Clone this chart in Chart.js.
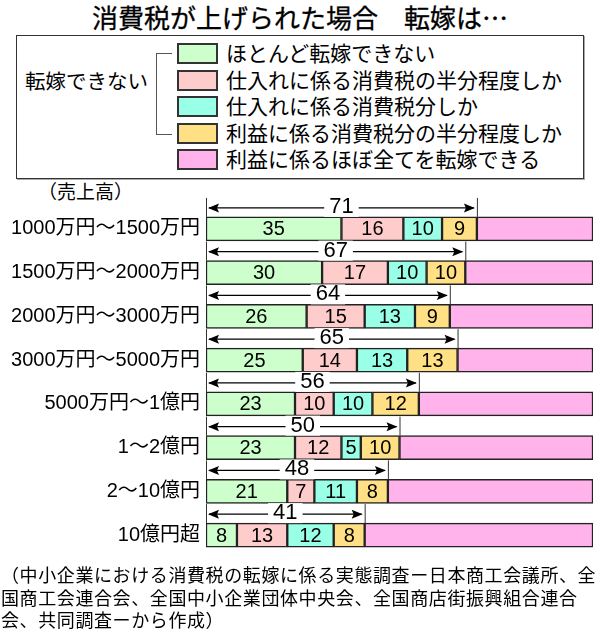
<!DOCTYPE html>
<html lang="ja">
<head>
<meta charset="utf-8">
<script src="https://cdn.jsdelivr.net/npm/chart.js@4"></script>
<style>
  html, body { margin: 0; padding: 0; background: #fff; }
  body { font-family: "Liberation Sans", "Noto Sans CJK JP", sans-serif; color: #000; }
  #wrap { position: relative; width: 600px; height: 635px; overflow: hidden; }
  #title { position: absolute; left: 0; top: 1px; width: 600px; text-align: center; font-family: "Noto Sans CJK JP", sans-serif; font-size: 26px; line-height: 32px; white-space: pre; -webkit-text-stroke: 0.3px #000; }
  #legendBox { position: absolute; left: 16px; top: 35px; width: 566px; height: 142px; border: 1.5px solid #333; box-shadow: 1px 1px 0 #aaa; }
  #group { position: absolute; left: 25px; top: 69px; font-size: 20.5px; line-height: 26px; }
  #bracket { position: absolute; left: 156px; top: 53px; width: 15px; height: 80px; border: 1.5px solid #555; border-right: none; }
  .sw { position: absolute; left: 177px; width: 37px; height: 17px; border: 2px solid #333; }
  .lt { position: absolute; left: 226px; font-size: 21px; line-height: 26px; white-space: nowrap; }
  #unit { position: absolute; left: 38px; top: 180px; font-size: 19px; line-height: 26px; }
  #chartBox { position: absolute; left: 0; top: 185px; width: 600px; height: 390px; }
  #note { position: absolute; left: 1px; top: 565px; width: 600px; font-size: 18px; letter-spacing: 0.6px; line-height: 22.5px; white-space: nowrap; }
</style>
</head>
<body>
<div id="wrap">
  <div id="title">消費税が上げられた場合　転嫁は…</div>
  <div id="legendBox"></div>
  <div id="group">転嫁できない</div>
  <div id="bracket"></div>
  <div id="legendItems"></div>
  <div id="unit">（売上高）</div>
  <div id="chartBox"><canvas id="c"></canvas></div>
  <div id="note">（中小企業における消費税の転嫁に係る実態調査ー日本商工会議所、全<br>国商工会連合会、全国中小企業団体中央会、全国商店街振興組合連合<br>会、共同調査ーから作成）</div>
</div>
<script>
// ===== DATA =====
const categories = ['1000万円～1500万円', '1500万円～2000万円', '2000万円～3000万円', '3000万円～5000万円',
  '5000万円～1億円', '1～2億円', '2～10億円', '10億円超'];
const seriesNames = ['ほとんど転嫁できない', '仕入れに係る消費税の半分程度しか', '仕入れに係る消費税分しか',
  '利益に係る消費税分の半分程度しか', '利益に係るほぼ全てを転嫁できる'];
const almostNone   = [35, 30, 26, 25, 23, 23, 21, 8];
const halfPurchase = [16, 17, 15, 14, 10, 12, 7, 13];
const fullPurchase = [10, 10, 13, 13, 10, 5, 11, 12];
const halfProfit   = [9, 10, 9, 13, 12, 10, 8, 8];
const allProfit    = [30, 33, 37, 35, 45, 50, 53, 59];
const cannotTotals = [71, 67, 64, 65, 56, 50, 48, 41];   // 転嫁できない 合計（矢印の数字）
const colors = ['#ccffcc', '#ffcccc', '#99ffe6', '#ffe085', '#ffb3ea'];

const seriesValues = [almostNone, halfPurchase, fullPurchase, halfProfit, allProfit];
const FONT = '"Liberation Sans", "Noto Sans CJK JP", sans-serif';

// legend (HTML, real text)
const legendItems = document.getElementById('legendItems');
seriesNames.forEach((name, i) => {
  const top = 43 + i * 26.5;
  const sw = document.createElement('div');
  sw.className = 'sw';
  sw.style.top = top + 'px';
  sw.style.background = colors[i];
  legendItems.appendChild(sw);
  const t = document.createElement('div');
  t.className = 'lt';
  t.style.top = (top - 2) + 'px';
  t.textContent = name;
  legendItems.appendChild(t);
});

// numbers inside the bars + arrows above them
const labelPlugin = {
  id: 'barLabels',
  afterDatasetsDraw(chart) {
    const ctx = chart.ctx;
    const xs = chart.scales.x;
    ctx.save();
    ctx.fillStyle = '#000';
    ctx.textAlign = 'center';
    ctx.textBaseline = 'middle';
    ctx.font = '20px ' + FONT;
    for (let d = 0; d < 4; d++) {
      chart.getDatasetMeta(d).data.forEach((bar, j) => {
        ctx.fillText(String(seriesValues[d][j]), (bar.x + bar.base) / 2, bar.y + 1);
      });
    }
    // arrows
    const meta0 = chart.getDatasetMeta(0);
    categories.forEach((c, j) => {
      const bar = meta0.data[j];
      const top = bar.y - bar.height / 2;
      const sum = almostNone[j] + halfPurchase[j] + fullPurchase[j] + halfProfit[j];
      const x0 = xs.getPixelForValue(0);
      const x1 = xs.getPixelForValue(sum);
      const ay = top - 9;
      ctx.strokeStyle = '#333';
      ctx.lineWidth = 1;
      ctx.beginPath();
      ctx.moveTo(x0 + 0.5, top - 19); ctx.lineTo(x0 + 0.5, top);
      ctx.moveTo(x1 + 0.5, top - 19); ctx.lineTo(x1 + 0.5, top);
      ctx.stroke();
      ctx.lineWidth = 1.3;
      ctx.strokeStyle = '#000';
      ctx.beginPath();
      ctx.moveTo(x0 + 3, ay); ctx.lineTo(x1 - 3, ay);
      ctx.stroke();
      ctx.fillStyle = '#000';
      ctx.beginPath();
      ctx.moveTo(x0 + 2, ay); ctx.lineTo(x0 + 13, ay - 4.5); ctx.lineTo(x0 + 11, ay); ctx.lineTo(x0 + 13, ay + 4.5); ctx.closePath();
      ctx.fill();
      ctx.beginPath();
      ctx.moveTo(x1 - 2, ay); ctx.lineTo(x1 - 13, ay - 4.5); ctx.lineTo(x1 - 11, ay); ctx.lineTo(x1 - 13, ay + 4.5); ctx.closePath();
      ctx.fill();
      ctx.font = '22px ' + FONT;
      const txt = String(cannotTotals[j]);
      const w = ctx.measureText(txt).width + 10;
      const cx = (x0 + x1) / 2;
      ctx.fillStyle = '#fff';
      ctx.fillRect(cx - w / 2, ay - 11, w, 20);
      ctx.fillStyle = '#000';
      ctx.fillText(txt, cx, ay - 1);
    });
    ctx.restore();
  }
};

new Chart(document.getElementById('c'), {
  type: 'bar',
  data: {
    labels: categories,
    datasets: seriesValues.map((vals, i) => ({
      label: seriesNames[i],
      data: vals,
      backgroundColor: colors[i],
      borderColor: '#222',
      borderWidth: 1.5,
      borderSkipped: false,
      barThickness: 24
    }))
  },
  options: {
    indexAxis: 'y',
    responsive: true,
    maintainAspectRatio: false,
    animation: false,
    layout: { padding: { top: 22, bottom: 6, right: 7, left: 0 } },
    plugins: { legend: { display: false }, tooltip: { enabled: false } },
    scales: {
      x: { stacked: true, min: 0, max: 100, display: false },
      y: {
        stacked: true,
        grid: { display: false, drawTicks: false },
        border: { display: false },
        ticks: { color: '#000', padding: 6, font: { family: FONT, size: 20 } },
        afterFit: scale => { scale.width = 206; }
      }
    }
  },
  plugins: [labelPlugin]
});
</script>
</body>
</html>
